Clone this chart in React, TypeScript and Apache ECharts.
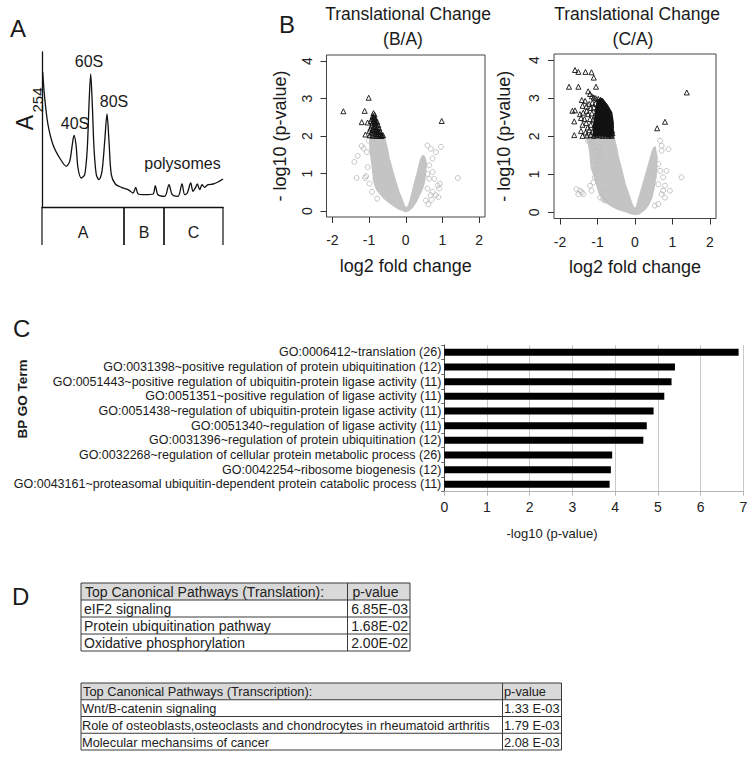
import React, { useEffect, useRef } from 'react';
import * as echarts from 'echarts';

const FONT = "'Liberation Sans', Arial, Helvetica, sans-serif";
const INK = '#1a1a1a';

// ---------- Panel A: polysome profile ----------
const gradientPos = [0.7, 2.7, 6, 11, 17.7, 24.3, 27.7, 30.3, 32, 34, 36, 39.3, 42.7, 45.3, 47, 48.7, 50.3, 52, 54.3, 57, 60, 62.7, 65, 67, 69.3, 73.3, 79.3, 86, 91, 93.7, 96, 102.7, 111, 113.3, 116, 122.7, 127, 130.3, 136, 140, 142.7, 145.3, 148.7, 151, 153.3, 155.3, 157.7, 160, 162.7, 166, 171, 176, 181];
const a254 = [135, 109, 82.3, 62.3, 49, 40.7, 45.7, 62.3, 71.7, 62.3, 39, 29, 32.3, 59, 102.3, 133, 102.3, 59, 32.3, 27.3, 35.7, 65.7, 93, 65.7, 32.3, 23, 19.7, 17.3, 14, 19.7, 13.3, 12.3, 13, 21.3, 12.3, 10.7, 22.3, 12.3, 10.7, 23, 12.3, 14, 24, 15.7, 19, 23, 17.3, 22.3, 19.7, 22.3, 23, 25, 28];
const fractionLabels = ['A', 'B', 'C'];
const fractionStart = [0, 82, 122];
const fractionEnd = [82, 122, 181];

// ---------- Panel B: volcano plots ----------
const volcanoXTicks = [-2, -1, 0, 1, 2];
const volcanoYTicks = [0, 1, 2, 3, 4];

const baCloud = [[0, -0.01], [-0.1, 0.03], [-0.19, 0.06], [-0.32, 0.14], [-0.46, 0.24], [-0.58, 0.34], [-0.69, 0.46], [-0.78, 0.57], [-0.83, 0.68], [-0.87, 0.82], [-0.88, 0.95], [-0.9, 1.12], [-0.92, 1.31], [-0.95, 1.5], [-0.97, 1.66], [-0.97, 1.85], [-0.96, 2.0], [-0.6, 2.0], [-0.52, 1.7], [-0.46, 1.4], [-0.37, 1.08], [-0.28, 0.77], [-0.19, 0.5], [-0.1, 0.28], [-0.04, 0.12], [0, 0.06], [0.05, 0.1], [0.09, 0.15], [0.16, 0.4], [0.23, 0.68], [0.3, 0.93], [0.36, 1.17], [0.41, 1.36], [0.44, 1.44], [0.48, 1.47], [0.53, 1.38], [0.55, 1.26], [0.53, 1.0], [0.5, 0.77], [0.44, 0.58], [0.36, 0.42], [0.27, 0.24], [0.18, 0.11], [0.08, 0.02]];
const baGrey = [[-1.4, 1.31], [-1.31, 1.47], [-1.34, 0.88], [-1.11, 0.88], [-1.08, 0.93], [-1.2, 1.73], [-1.15, 1.67], [-1.06, 1.57], [-1.01, 1.88], [-1.04, 1.17], [-0.99, 0.73], [-0.92, 0.51], [-0.78, 0.33], [0.59, 1.75], [0.68, 1.66], [0.82, 1.57], [0.96, 1.71], [0.64, 1.22], [0.73, 1.04], [0.64, 0.86], [0.78, 0.86], [0.87, 0.68], [0.91, 0.6], [0.82, 0.42], [0.89, 0.37], [0.73, 0.51], [0.93, 0.73], [1.42, 0.88], [0.59, 0.6], [0.68, 0.42], [0.55, 0.28], [0.59, 0.99], [0.73, 1.4], [0.62, 0.18], [0.7, 0.3]];
const baSig = [[-1.7, 2.66], [-1.01, 3.02], [-1.12, 2.67], [-1.2, 2.37], [-1.1, 2.04], [0.98, 2.4], [-1.04, 2.36], [-0.99, 2.14], [-0.88, 2.61], [-0.85, 2.57], [-0.9, 2.53], [-0.86, 2.5], [-0.83, 2.47], [-0.92, 2.46], [-0.88, 2.42], [-0.82, 2.4], [-0.78, 2.38], [-0.95, 2.4], [-0.9, 2.35], [-0.85, 2.33], [-0.8, 2.31], [-0.75, 2.29], [-0.93, 2.28], [-0.88, 2.25], [-0.83, 2.24], [-0.77, 2.22], [-0.72, 2.2], [-0.96, 2.2], [-0.9, 2.17], [-0.85, 2.15], [-0.79, 2.14], [-0.74, 2.12], [-0.69, 2.11], [-0.93, 2.09], [-0.87, 2.07], [-0.81, 2.06], [-0.76, 2.05], [-0.7, 2.04], [-0.65, 2.03], [-0.98, 2.02], [-0.91, 2.01], [-0.84, 2.01], [-0.78, 2.0], [-0.72, 2.01], [-0.66, 2.0], [-0.62, 2.02], [-0.86, 2.45], [-0.84, 2.36], [-0.81, 2.18]];

const caCloud = [[0, -0.04], [-0.09, -0.03], [-0.25, 0.03], [-0.45, 0.09], [-0.62, 0.17], [-0.76, 0.26], [-0.86, 0.37], [-0.93, 0.48], [-0.98, 0.61], [-1.02, 0.74], [-1.08, 0.95], [-1.16, 1.18], [-1.18, 1.4], [-1.2, 1.62], [-1.24, 1.82], [-1.29, 2.0], [-0.58, 2.0], [-0.5, 1.7], [-0.45, 1.44], [-0.36, 1.1], [-0.27, 0.74], [-0.18, 0.48], [-0.09, 0.22], [-0.02, 0.09], [0.04, 0.13], [0.13, 0.44], [0.22, 0.74], [0.31, 1.05], [0.4, 1.36], [0.46, 1.58], [0.49, 1.66], [0.53, 1.71], [0.58, 1.44], [0.57, 1.15], [0.55, 0.92], [0.5, 0.65], [0.44, 0.39], [0.36, 0.22], [0.27, 0.09], [0.12, -0.02], [0.04, -0.04]];
const caCore = [[-0.98, 2.95], [-0.88, 2.98], [-0.75, 2.82], [-0.63, 2.62], [-0.59, 2.35], [-0.59, 2.01], [-1.1, 2.01], [-1.1, 2.25], [-1.06, 2.5], [-1.03, 2.72]];
const caGrey = [[-1.56, 0.61], [-1.47, 0.57], [-1.42, 0.53], [-1.38, 0.48], [-1.51, 0.48], [-1.16, 0.57], [-1.2, 0.7], [-1.11, 0.79], [-1.07, 0.92], [-1.02, 1.14], [-0.98, 1.36], [-0.93, 1.53], [-1.07, 1.62], [-0.98, 1.71], [-1.25, 1.88], [-1.11, 1.84], [-0.89, 0.53], [-0.85, 0.35], [-0.93, 0.39], [-0.8, 0.31], [0.67, 1.88], [0.89, 1.66], [0.71, 1.62], [0.62, 1.27], [0.67, 1.09], [0.75, 0.92], [0.62, 0.74], [0.8, 0.7], [0.75, 0.57], [0.93, 0.57], [0.71, 0.48], [0.8, 0.39], [0.62, 0.22], [0.53, 0.18], [1.24, 0.92], [0.84, 1.09], [0.71, 1.75]];
const caSig = [[-1.6, 3.74], [-1.51, 3.69], [-1.32, 3.69], [-1.16, 3.68], [-1.1, 3.54], [-1.76, 3.3], [-1.51, 3.3], [-1.04, 3.3], [1.38, 3.15], [0.8, 2.38], [0.59, 2.21], [-1.67, 2.67], [-1.6, 2.68], [-1.62, 2.39], [-1.62, 2.03], [-1.42, 2.95], [-1.4, 2.8], [-1.47, 2.58], [-1.4, 2.01], [-1.25, 3.18], [-1.2, 3.11], [-1.33, 2.93], [-1.29, 2.67], [-1.35, 2.45], [-1.26, 2.23], [-1.32, 2.1], [-1.15, 3.05], [-1.1, 3.02], [-1.05, 3.0], [-0.98, 2.98], [-0.92, 2.96], [-0.88, 2.92], [-1.22, 2.85], [-1.14, 2.88], [-1.06, 2.86], [-0.99, 2.84], [-0.93, 2.85], [-0.85, 2.8], [-1.3, 2.78], [-1.18, 2.74], [-1.1, 2.76], [-1.02, 2.72], [-0.95, 2.74], [-0.88, 2.7], [-0.8, 2.66], [-0.74, 2.6], [-1.38, 2.62], [-1.25, 2.58], [-1.15, 2.6], [-1.07, 2.55], [-1.0, 2.58], [-0.92, 2.56], [-0.84, 2.52], [-0.76, 2.5], [-0.68, 2.46], [-1.44, 2.48], [-1.2, 2.45], [-1.12, 2.42], [-1.03, 2.44], [-0.96, 2.4], [-0.88, 2.38], [-0.8, 2.36], [-0.72, 2.34], [-0.64, 2.3], [-1.4, 2.3], [-1.3, 2.35], [-1.18, 2.3], [-1.08, 2.28], [-1.0, 2.25], [-0.92, 2.24], [-0.84, 2.22], [-0.76, 2.2], [-0.68, 2.18], [-0.61, 2.15], [-1.44, 2.14], [-1.22, 2.16], [-1.14, 2.12], [-1.05, 2.14], [-0.97, 2.1], [-0.88, 2.08], [-0.8, 2.1], [-0.72, 2.06], [-0.65, 2.04], [-0.6, 2.08], [-1.28, 2.02], [-1.18, 2.03], [-1.1, 2.01], [-1.02, 2.03], [-0.94, 2.02], [-0.86, 2.01], [-0.78, 2.02], [-0.7, 2.01], [-0.62, 2.01]];

// ---------- Panel C: GO terms ----------
const goTerms = [
  'GO:0006412~translation',
  'GO:0031398~positive regulation of protein ubiquitination',
  'GO:0051443~positive regulation of ubiquitin-protein ligase activity',
  'GO:0051351~positive regulation of ligase activity',
  'GO:0051438~regulation of ubiquitin-protein ligase activity',
  'GO:0051340~regulation of ligase activity',
  'GO:0031396~regulation of protein ubiquitination',
  'GO:0032268~regulation of cellular protein metabolic process',
  'GO:0042254~ribosome biogenesis',
  'GO:0043161~proteasomal ubiquitin-dependent protein catabolic process',
];
const goCounts = [26, 12, 11, 11, 11, 11, 12, 26, 12, 11];
const goValues = [6.89, 5.4, 5.32, 5.15, 4.9, 4.74, 4.66, 3.93, 3.9, 3.87];

// ---------- Panel D: tables ----------
const t1Header = ['Top Canonical Pathways (Translation):', 'p-value'];
const t1Pathways = ['eIF2 signaling', 'Protein ubiquitination pathway', 'Oxidative phosphorylation'];
const t1PValues = ['6.85E-03', '1.68E-02', '2.00E-02'];
const t2Header = ['Top Canonical Pathways (Transcription):', 'p-value'];
const t2Pathways = ['Wnt/B-catenin signaling', 'Role of osteoblasts,osteoclasts and chondrocytes in rheumatoid arthritis', 'Molecular mechansims of cancer'];
const t2PValues = ['1.33 E-03', '1.79 E-03', '2.08 E-03'];

function txt(text: string, x: number, y: number, size: number, opts: any = {}) {
  const align = opts.align || 'center';
  const va = opts.va || 'middle';
  return {
    type: 'text',
    x,
    y,
    rotation: opts.rotation || 0,
    silent: true,
    style: {
      text,
      font: `${opts.weight || 'normal'} ${size}px ${FONT}`,
      fill: opts.color || INK,
      align,
      verticalAlign: va,
      textAlign: align,
      textVerticalAlign: va,
    },
  };
}

function tableGraphics(cfg: any) {
  const { left, right, divider, top, rowH, header, names, values, size, padL, valueAlign, valueX } = cfg;
  const els: any[] = [];
  const rows = names.length + 1;
  const line = { stroke: '#3a3a3a', lineWidth: 1 };
  els.push({ type: 'rect', silent: true, shape: { x: left, y: top, width: right - left, height: rowH }, style: { fill: '#d9d9d9' } });
  for (let i = 0; i <= rows; i++) {
    els.push({ type: 'line', silent: true, shape: { x1: left, y1: top + i * rowH, x2: right, y2: top + i * rowH }, style: line });
  }
  [left, divider, right].forEach((x) => {
    els.push({ type: 'line', silent: true, shape: { x1: x, y1: top, x2: x, y2: top + rows * rowH }, style: line });
  });
  els.push(txt(header[0], left + padL + 1, top + rowH / 2 + 0.5, size, { align: 'left', color: '#222' }));
  els.push(txt(header[1], divider + cfg.headPad, top + rowH / 2 + 0.5, size, { align: 'left', color: '#222' }));
  names.forEach((n: string, i: number) => {
    const cy = top + (i + 1.5) * rowH + 0.5;
    els.push(txt(n, left + padL, cy, size, { align: 'left', color: '#222' }));
    els.push(txt(values[i], valueX, cy, size, { align: valueAlign, color: '#222' }));
  });
  return els;
}

function polygonSeries(pts: number[][], idx: number, fill: string, z: number) {
  return {
    type: 'custom',
    xAxisIndex: idx,
    yAxisIndex: idx,
    z,
    silent: true,
    data: [pts[0]],
    renderItem: (_p: any, api: any) => ({
      type: 'polygon',
      shape: { points: pts.map((p) => api.coord(p)) },
      style: { fill, stroke: fill, lineWidth: 2, lineJoin: 'round' },
    }),
  };
}

function pointSeries(pts: number[][], idx: number, symbol: string, color: string, size: number, z: number) {
  return {
    type: 'scatter',
    xAxisIndex: idx,
    yAxisIndex: idx,
    z,
    silent: true,
    data: pts,
    symbol,
    symbolSize: size,
    itemStyle: { color: 'rgba(255,255,255,0)', borderColor: color, borderWidth: 0.9, opacity: 1 },
  };
}

function volX(grid: number, nameGap: number) {
  return {
    type: 'value',
    gridIndex: grid,
    min: -2.16,
    max: 2.16,
    axisLine: { show: false, onZero: false },
    axisTick: { show: true, customValues: volcanoXTicks, length: 6, lineStyle: { color: '#333', width: 1 } },
    axisLabel: { show: true, customValues: volcanoXTicks, fontSize: 14, color: '#222', margin: 16, fontFamily: FONT },
    splitLine: { show: false },
    name: 'log2 fold change',
    nameLocation: 'middle',
    nameGap,
    nameTextStyle: { fontSize: 18, color: INK, fontFamily: FONT },
  };
}

function volY(grid: number, nameGap: number) {
  return {
    type: 'value',
    gridIndex: grid,
    min: -0.16,
    max: 4.16,
    axisLine: { show: false, onZero: false },
    axisTick: { show: true, customValues: volcanoYTicks, length: 6, lineStyle: { color: '#333', width: 1 } },
    axisLabel: { show: true, customValues: volcanoYTicks, rotate: 90, fontSize: 14, color: '#222', margin: 13, fontFamily: FONT },
    splitLine: { show: false },
    name: '- log10 (p-value)',
    nameLocation: 'middle',
    nameRotate: 90,
    nameGap,
    nameTextStyle: { fontSize: 18, color: INK, fontFamily: FONT },
  };
}

export default function App() {
  const ref = useRef<HTMLDivElement>(null);

  useEffect(() => {
    document.body.style.margin = '0';
    if (!ref.current) return;
    const chart = echarts.init(ref.current, undefined, { renderer: 'svg' });

    const blackAxis = { show: true, onZero: false, lineStyle: { color: '#111', width: 1.3 } };

    const option: any = {
      animation: false,
      backgroundColor: '#ffffff',
      textStyle: { fontFamily: FONT },
      grid: [
        { left: 42, top: 52, width: 181, height: 155, outerBoundsMode: 'none' },
        { left: 326.5, top: 55, width: 158.5, height: 162, show: true, borderColor: '#444', borderWidth: 1, outerBoundsMode: 'none' },
        { left: 554, top: 54, width: 162, height: 164.5, show: true, borderColor: '#444', borderWidth: 1, outerBoundsMode: 'none' },
        { left: 444.3, top: 345, width: 299, height: 146.7, outerBoundsMode: 'none' },
      ],
      xAxis: [
        { type: 'value', gridIndex: 0, min: 0, max: 181, axisLine: blackAxis, axisTick: { show: false }, axisLabel: { show: false }, splitLine: { show: false } },
        volX(1, 40),
        volX(2, 39),
        {
          type: 'value',
          gridIndex: 3,
          min: 0,
          max: 7,
          interval: 1,
          axisLine: { show: true, onZero: false, lineStyle: { color: '#b5b5b5', width: 1 } },
          axisTick: { show: true, length: 4, lineStyle: { color: '#b5b5b5' } },
          axisLabel: { fontSize: 14, color: '#222', margin: 8, fontFamily: FONT },
          splitLine: { show: true, lineStyle: { color: '#c8c8c8', width: 1 } },
        },
      ],
      yAxis: [
        { type: 'value', gridIndex: 0, min: 0, max: 155, axisLine: blackAxis, axisTick: { show: false }, axisLabel: { show: false }, splitLine: { show: false } },
        volY(1, 38),
        volY(2, 41),
        {
          type: 'category',
          gridIndex: 3,
          inverse: true,
          data: goTerms.map((t, i) => `${t} (${goCounts[i]})`),
          axisLine: { show: true, onZero: false, lineStyle: { color: '#444', width: 1 } },
          axisTick: { show: true, length: 3, interval: 0, lineStyle: { color: '#666' } },
          axisLabel: { interval: 0, fontSize: 12.5, color: '#1a1a1a', margin: 3, fontFamily: FONT },
          splitLine: { show: false },
        },
      ],
      series: [
        {
          type: 'line',
          xAxisIndex: 0,
          yAxisIndex: 0,
          data: gradientPos.map((x, i) => [x, a254[i]]),
          showSymbol: false,
          smooth: 0.3,
          lineStyle: { color: '#111', width: 1.3 },
          silent: true,
        },
        {
          type: 'custom',
          xAxisIndex: 0,
          yAxisIndex: 0,
          clip: false,
          silent: true,
          data: fractionLabels.map((_l, i) => [fractionStart[i], fractionEnd[i]]),
          renderItem: (params: any, api: any) => {
            const i = params.dataIndex;
            const s = api.coord([api.value(0), 0]);
            const e = api.coord([api.value(1), 0]);
            const ls = { stroke: '#111', lineWidth: 1.2 };
            return {
              type: 'group',
              children: [
                { type: 'line', shape: { x1: s[0], y1: s[1], x2: s[0], y2: s[1] + 38 }, style: ls },
                { type: 'line', shape: { x1: e[0], y1: e[1], x2: e[0], y2: e[1] + 38 }, style: ls },
                {
                  type: 'text',
                  x: (s[0] + e[0]) / 2,
                  y: s[1] + 25,
                  style: { text: fractionLabels[i], font: `16px ${FONT}`, fill: INK, align: 'center', verticalAlign: 'middle', textAlign: 'center', textVerticalAlign: 'middle' },
                },
              ],
            };
          },
        },
        polygonSeries(baCloud, 1, '#c4c4c4', 2),
        pointSeries(baGrey, 1, 'circle', '#bcbcbc', 5, 3),
        pointSeries(baSig, 1, 'triangle', '#111', 5, 5),
        polygonSeries(caCloud, 2, '#c4c4c4', 2),
        pointSeries(caGrey, 2, 'circle', '#bcbcbc', 5, 3),
        polygonSeries(caCore, 2, '#141414', 4),
        pointSeries(caSig, 2, 'triangle', '#111', 5, 5),
        {
          type: 'bar',
          xAxisIndex: 3,
          yAxisIndex: 3,
          data: goValues,
          barWidth: 7,
          itemStyle: { color: '#000' },
          silent: true,
        },
      ],
      graphic: {
        elements: [
          txt('A', 10, 28.5, 24, { align: 'left' }),
          txt('B', 279, 24, 24, { align: 'left' }),
          txt('C', 13, 328.5, 24, { align: 'left' }),
          txt('D', 12, 596, 24, { align: 'left' }),
          txt('A', 25, 122.5, 23, { rotation: Math.PI / 2 }),
          txt('254', 37.5, 100, 15, { rotation: Math.PI / 2 }),
          txt('40S', 75, 123.5, 16),
          txt('60S', 89, 61, 16),
          txt('80S', 114, 101, 16),
          txt('polysomes', 182.5, 163, 16),
          txt('Translational Change', 408, 14, 17.5),
          txt('(B/A)', 403, 38.5, 17.5),
          txt('Translational Change', 637, 14, 17.5),
          txt('(C/A)', 633, 38.5, 17.5),
          txt('BP GO Term', 22.5, 399, 13.5, { rotation: Math.PI / 2, weight: 'bold' }),
          txt('-log10 (p-value)', 552, 533.5, 13),
          ...tableGraphics({ left: 81, right: 410, divider: 347.5, top: 583, rowH: 17, header: t1Header, names: t1Pathways, values: t1PValues, size: 14, padL: 3, headPad: 5, valueAlign: 'right', valueX: 408 }),
          ...tableGraphics({ left: 81, right: 561.5, divider: 502.5, top: 683, rowH: 16.75, header: t2Header, names: t2Pathways, values: t2PValues, size: 12.8, padL: 1, headPad: 1.5, valueAlign: 'left', valueX: 504 }),
        ],
      },
    };

    chart.setOption(option);
    return () => {
      chart.dispose();
    };
  }, []);

  return <div ref={ref} style={{ width: 754, height: 760, position: 'absolute', left: 0, top: 0 }} />;
}
